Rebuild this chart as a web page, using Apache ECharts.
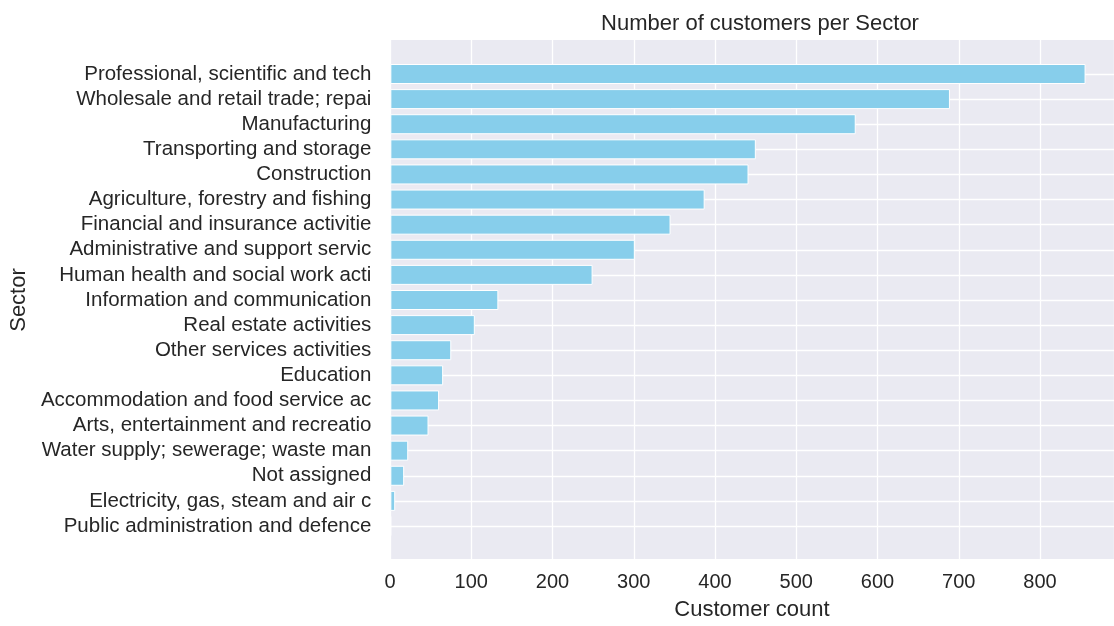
<!DOCTYPE html>
<html>
<head>
<meta charset="utf-8">
<title>Number of customers per Sector</title>
<script src="https://cdn.jsdelivr.net/npm/echarts@6/dist/echarts.min.js"></script>
<style>
  html, body { margin: 0; padding: 0; background: #fff; }
  #main { width: 1114px; height: 626px; }
</style>
</head>
<body>
<div id="main"></div>
<script>
// sectors, top to bottom
var sectors = [
  'Professional, scientific and tech',
  'Wholesale and retail trade; repai',
  'Manufacturing',
  'Transporting and storage',
  'Construction',
  'Agriculture, forestry and fishing',
  'Financial and insurance activitie',
  'Administrative and support servic',
  'Human health and social work acti',
  'Information and communication',
  'Real estate activities',
  'Other services activities',
  'Education',
  'Accommodation and food service ac',
  'Arts, entertainment and recreatio',
  'Water supply; sewerage; waste man',
  'Not assigned',
  'Electricity, gas, steam and air c',
  'Public administration and defence'
];
var customers = [856, 689, 573, 450, 441, 387, 345, 301, 249, 133, 104, 75, 65, 60, 47, 22, 17, 6, 1];

// the picture is cut at the right edge, so the visible range ends a bit before 900
var xMax = 891;
var xStep = 100;

var txt = '#262626';
var font = 'Liberation Sans, Arial, sans-serif';

var chart = echarts.init(document.getElementById('main'));

var option = {
  animation: false,
  title: {
    text: 'Number of customers per Sector',
    left: 755,
    top: 8,
    textAlign: 'center',
    textStyle: { fontFamily: font, fontSize: 22, fontWeight: 'normal', color: txt }
  },
  grid: [
    // background grid (full plot area, like matplotlib axes)
    { left: 390, right: 0, top: 40, bottom: 66, show: true,
      backgroundColor: '#EAEAF2', borderWidth: 0 },
    // bars grid: category centres from first to last bar
    { left: 390, right: 0, top: 74, bottom: 100 }
  ],
  xAxis: [
    {
      gridIndex: 0, type: 'value', min: 0, max: xMax, interval: xStep,
      axisLine: { show: false }, axisTick: { show: false },
      splitLine: { show: true, lineStyle: { color: '#ffffff', width: 1.3 } },
      axisLabel: { color: txt, fontFamily: font, fontSize: 20, margin: 13, showMaxLabel: false },
      name: 'Customer count', nameLocation: 'middle', nameGap: 40,
      nameTextStyle: { color: txt, fontFamily: font, fontSize: 22 }
    },
    {
      gridIndex: 1, type: 'value', min: 0, max: xMax, interval: xStep, show: false,
      splitLine: { show: false }
    }
  ],
  yAxis: [
    {
      gridIndex: 0, type: 'value', min: 0, max: 1, show: false,
      splitLine: { show: false }
    },
    {
      gridIndex: 1, type: 'category', data: sectors, inverse: true, boundaryGap: false,
      axisLine: { show: false }, axisTick: { show: false },
      splitLine: { show: true, lineStyle: { color: '#ffffff', width: 1.3 } },
      axisLabel: { color: txt, fontFamily: font, fontSize: 20.5, margin: 19, interval: 0 },
      name: 'Sector', nameLocation: 'middle', nameGap: 359, nameRotate: 90,
      nameTextStyle: { color: txt, fontFamily: font, fontSize: 22 }
    }
  ],
  series: [
    {
      type: 'bar',
      xAxisIndex: 1,
      yAxisIndex: 1,
      data: customers,
      barWidth: 20,
      itemStyle: { color: '#87CEEB', borderColor: '#ffffff', borderWidth: 1 }
    }
  ]
};

chart.setOption(option);
</script>
</body>
</html>
